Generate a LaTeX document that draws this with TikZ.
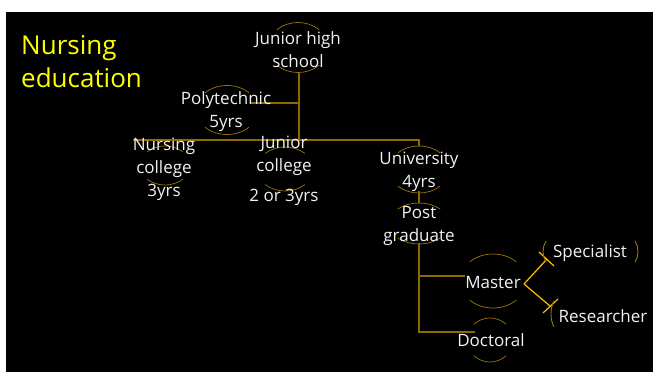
\documentclass[tikz,border=0pt]{standalone}
\usepackage{fontspec}
\setmainfont{Open Sans}
\definecolor{txt}{RGB}{242,242,242}
\definecolor{ttlc}{RGB}{255,255,0}
\definecolor{tree}{RGB}{140,106,0}
\definecolor{deco}{RGB}{155,118,10}
\definecolor{hi}{RGB}{255,192,0}
\newcommand\ringdeco[4]{%
  \draw[arcdeco] (#1,#2) ++(225:#3 and #4) arc[start angle=225,end angle=315,x radius=#3,y radius=#4];
  \draw[arcdeco] (#1,#2) ++(45:#3 and #4) arc[start angle=45,end angle=135,x radius=#3,y radius=#4];}
\begin{document}
\begin{tikzpicture}[x=1pt,y=-1pt,
  lbl/.style={text=txt,font=\fontsize{17}{23}\selectfont,align=center,inner sep=0pt},
  ttl/.style={text=ttlc,font=\fontsize{26}{33}\selectfont,align=left,inner sep=0pt,anchor=west},
  conn/.style={draw=tree,line width=1.1pt},
  hiconn/.style={draw=hi,line width=1.2pt},
  arcdeco/.style={draw=deco,line width=0.7pt}]
\useasboundingbox (0,0) rectangle (653,372);
\fill[white] (0,0) rectangle (653,372);
\fill[black] (6,12) rectangle (653,372);

% decorative arcs
\ringdeco{298}{47.5}{30}{25}
\ringdeco{227}{110}{31}{24.5}
\ringdeco{165}{165.5}{25}{19.5}
\ringdeco{285}{169}{28}{22}
\ringdeco{419}{169.5}{30}{23.5}
\ringdeco{419}{223.5}{30}{20.5}
\ringdeco{493}{281}{33}{27}
\ringdeco{490}{340}{23}{22}

% connectors (coordinates)
\coordinate (jhsB) at (299,73);
\coordinate (jA) at (299,103);
\coordinate (polyR) at (251,103);
\coordinate (jB) at (299,140);
\coordinate (ncL) at (133,140);
\coordinate (uniT) at (419,146);
\coordinate (uniB) at (419,191);
\coordinate (pgT) at (419,203);
\coordinate (pgB) at (419,243);
\coordinate (mA) at (419,276);
\coordinate (masL) at (465,276);
\coordinate (dA) at (419,332);
\coordinate (docL) at (475,332);
\coordinate (masR) at (524,284);
\coordinate (spT) at (547,259);
\coordinate (reT) at (550,306);

\draw[conn] (jhsB) -- (jB);
\draw[conn] (polyR) -- (jA);
\draw[conn] (ncL) -- (jB) -| (uniT);
\draw[conn] (uniB) -- (pgT);
\draw[conn] (pgB) -- (dA) -- (docL);
\draw[conn] (mA) -- (masL);
\draw[hiconn] (masR) -- (spT);
\draw[hiconn] (masR) -- (reT);
\draw[hiconn] (539,252) -- (554,266);
\draw[hiconn] (543,313) -- (558,299);

% brackets
\draw[arcdeco,line width=0.9pt] (546,241) .. controls (542,247) and (542,256) .. (546,262);
\draw[arcdeco,line width=0.9pt] (635,241) .. controls (639,247) and (639,256) .. (635,262);
\draw[arcdeco,line width=0.9pt] (554,301) .. controls (550,308) and (550,320) .. (554,327);

% texts
\node[ttl] (title) at (21,61.5) {Nursing\\education};
\node[lbl] (jhs) at (298,49.5) {Junior high\\school};
\node[lbl] (poly) at (226,111.5) {Polytechnic\\5yrs};
\node[lbl] (nc) at (164,169) {Nursing\\college\\3yrs};
\node[lbl] (jc) at (284,155.5) {Junior\\college};
\node[lbl] (jcy) at (284,197) {2 or 3yrs};
\node[lbl] (uni) at (419,171.5) {University\\4yrs};
\node[lbl] (pg) at (419,225.5) {Post\\graduate};
\node[lbl] (mas) at (493,283) {Master};
\node[lbl] (doc) at (491,340.5) {Doctoral};
\node[lbl] (spec) at (590,253.5) {Specialist};
\node[lbl] (res) at (603,316.5) {Researcher};
\end{tikzpicture}
\end{document}
